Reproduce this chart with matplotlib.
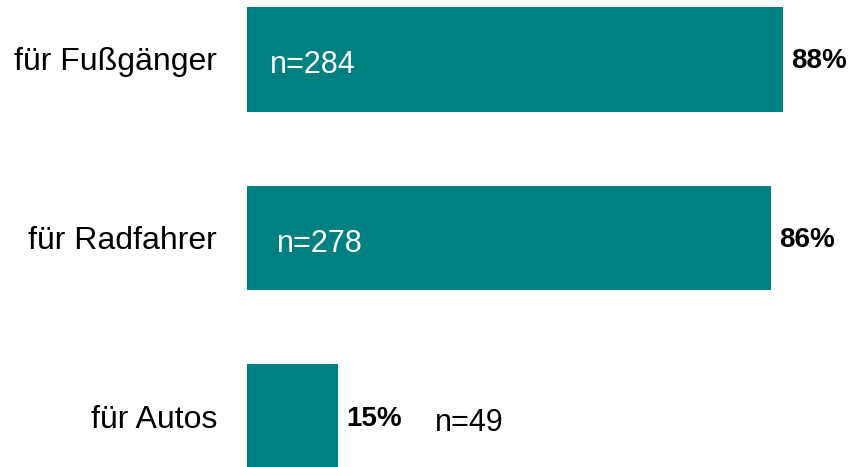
import matplotlib.pyplot as plt

categories = ['für Fußgänger', 'für Radfahrer', 'für Autos']
values = [88, 86, 15]
n_labels = ['n=284', 'n=278', 'n=49']

teal = '#008080'

plt.rcParams['font.family'] = ['Liberation Sans', 'DejaVu Sans']

fig = plt.figure(figsize=(8.5, 4.67), dpi=100)
ax = fig.add_axes([247 / 850, 0, 603 / 850, 1])

ypos = list(range(len(categories)))
ax.barh(ypos, values, height=0.587, color=teal)

ax.set_xlim(0, 99)
ax.set_ylim(2.282, -0.332)
ax.axis('off')

fs = 22

# n labels: inside the long bars (white), after the short one (black)
n_offsets = [23, 30, 97]
for i, (v, lab) in enumerate(zip(values, n_labels)):
    if v > 50:
        ax.annotate(lab, (0, i), xytext=(n_offsets[i], -6), textcoords='offset pixels',
                    ha='left', va='center', color='white', fontsize=fs)
    else:
        ax.annotate(lab, (v, i), xytext=(n_offsets[i], -6), textcoords='offset pixels',
                    ha='left', va='center', color='black', fontsize=fs)

# percent labels
for i, v in enumerate(values):
    ax.annotate(f'{v}%', (v, i), xytext=(8, -2), textcoords='offset pixels',
                ha='left', va='center', fontsize=fs - 2, fontweight='bold')

# category labels
for i, c in enumerate(categories):
    ax.annotate(c, (0, i), xytext=(-30, -3), textcoords='offset pixels',
                ha='right', va='center', fontsize=fs + 1, annotation_clip=False)

fig.savefig('out.png', dpi=100)
